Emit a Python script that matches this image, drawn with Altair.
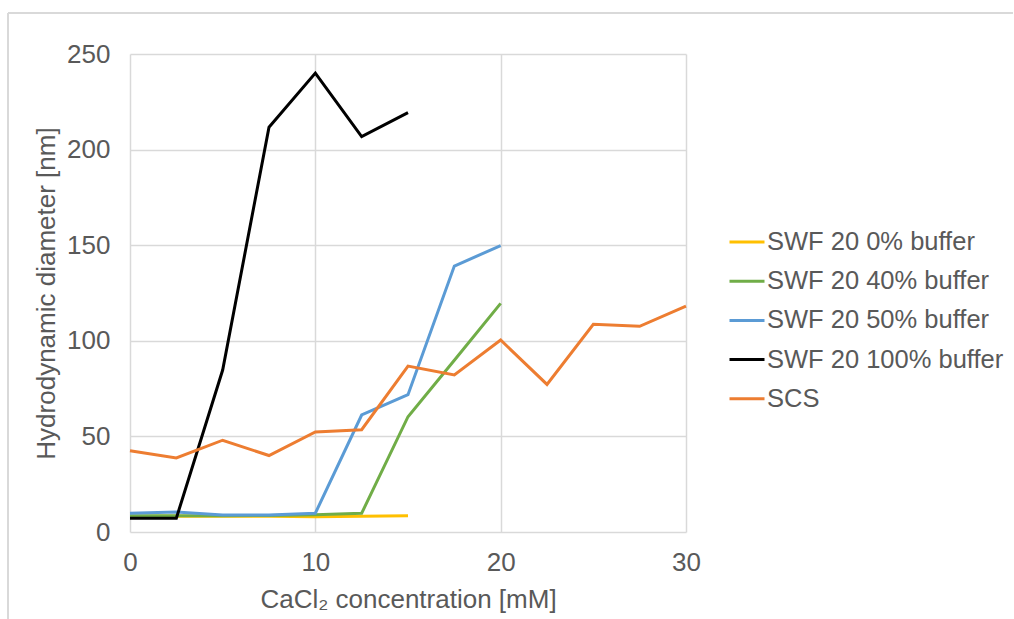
import altair as alt
import pandas as pd

series_names = ["SWF 20 0% buffer", "SWF 20 40% buffer", "SWF 20 50% buffer",
                "SWF 20 100% buffer", "SCS"]
colors = ["#FFC000", "#70AD47", "#5B9BD5", "#000000", "#ED7D31"]

x_swf = [0, 2.5, 5, 7.5, 10, 12.5, 15]
x_swf20 = [0, 2.5, 5, 7.5, 10, 12.5, 15, 17.5, 20]
x_scs = [0, 2.5, 5, 7.5, 10, 12.5, 15, 17.5, 20, 22.5, 25, 27.5, 30]

y_0 = [8.2, 8.2, 8.3, 8.3, 8.0, 8.2, 8.5]
y_40 = [8.5, 8.5, 8.5, 8.6, 9.0, 9.8, 60.3, 89.8, 119.6]
y_50 = [9.8, 10.5, 8.9, 8.9, 9.8, 61.2, 71.8, 139.1, 149.8]
y_100 = [7.2, 7.2, 84.7, 211.7, 240.0, 206.8, 219.3]
y_scs = [42.5, 38.7, 48.0, 40.0, 52.3, 53.5, 86.8, 82.1, 100.4, 77.2, 108.6, 107.6, 118.2]

rows = []
for name, xs, ys in [(series_names[0], x_swf, y_0),
                     (series_names[1], x_swf20, y_40),
                     (series_names[2], x_swf20, y_50),
                     (series_names[3], x_swf, y_100),
                     (series_names[4], x_scs, y_scs)]:
    for xv, yv in zip(xs, ys):
        rows.append({"series": name, "conc": xv, "diam": yv})
df = pd.DataFrame(rows)

FONT = "Liberation Sans"
TXT = "#595959"
GRID = "#d9d9d9"

color = alt.Color("series:N",
                  scale=alt.Scale(domain=series_names, range=colors),
                  legend=alt.Legend(title=None, orient="none", legendX=598, legendY=169,
                                    symbolType="stroke", symbolSize=1225,
                                    symbolStrokeWidth=3, labelFontSize=25.5,
                                    labelFont=FONT, labelColor=TXT, labelOffset=1,
                                    rowPadding=6.2, labelLimit=400))

xenc = alt.X("conc:Q", scale=alt.Scale(domain=[0, 30], nice=False),
             axis=alt.Axis(values=[0, 10, 20, 30], title="CaCl₂ concentration [mM]",
                           grid=True, ticks=False, domain=False, labelPadding=17,
                           labelFlush=False, titlePadding=11))
yenc = alt.Y("diam:Q", scale=alt.Scale(domain=[0, 250], nice=False),
             axis=alt.Axis(values=[0, 50, 100, 150, 200, 250],
                           title="Hydrodynamic diameter [nm]",
                           grid=True, ticks=False, domain=False, labelPadding=20,
                           labelFlush=False, titlePadding=7))

base = alt.Chart(df).mark_line(strokeWidth=3).encode(x=xenc, y=yenc, color=color)
layers = [base.transform_filter(alt.datum.series == s) for s in series_names]

border_top = alt.Chart(df).mark_rule(color=GRID, strokeWidth=1.5).encode(
    x=alt.value(-122), x2=alt.value(883), y=alt.value(-41))
border_left = alt.Chart(df).mark_rule(color=GRID, strokeWidth=1.5).encode(
    x=alt.value(-122), y=alt.value(-41), y2=alt.value(570))

chart = alt.layer(border_top, border_left, *layers).properties(
    width=556, height=478,
    autosize=alt.AutoSizeParams(type="none"),
    padding={"left": 130, "top": 54, "right": 328, "bottom": 87},
).configure(background="white").configure_view(stroke=None).configure_axis(
    labelFont=FONT, titleFont=FONT, labelColor=TXT, titleColor=TXT,
    labelFontSize=26, titleFontSize=26, titleFontWeight="normal",
    gridColor=GRID, gridWidth=1.5,
)

chart.save("out.html", embed_options={"renderer": "svg", "actions": False})
